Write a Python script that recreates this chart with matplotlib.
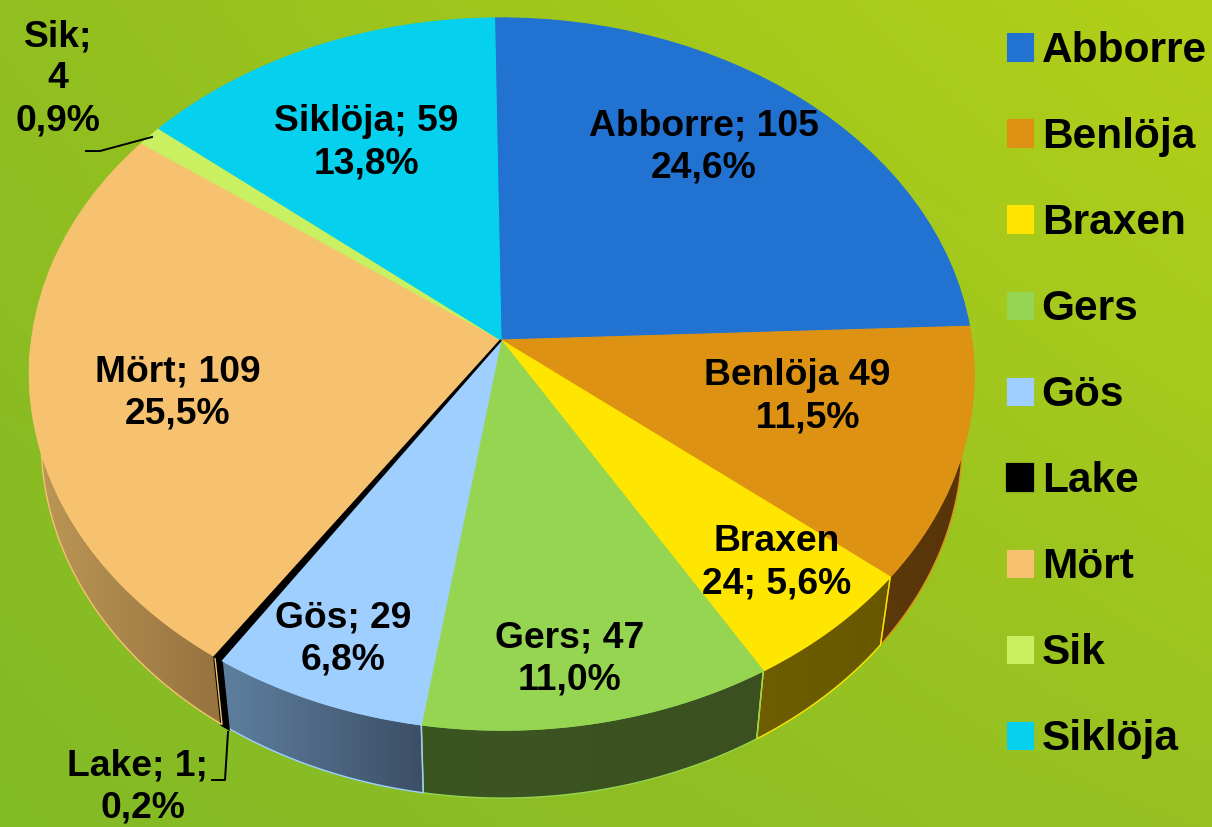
#!/usr/bin/python
# -*- coding: utf-8 -*-
"""3D looking pie of the catch per species"""
import numpy as np
import matplotlib
matplotlib.use('Agg')
import matplotlib.pyplot as plt
from matplotlib.colors import to_rgb
from matplotlib.patches import Polygon
from matplotlib.transforms import Transform

species = ['Abborre', 'Benlöja', 'Braxen', 'Gers', 'Gös', 'Lake', 'Mört', 'Sik', 'Siklöja']
counts = [105, 49, 24, 47, 29, 1, 109, 4, 59]
top_colors = ['#2272d2', '#dd9214', '#ffe600', '#96d552', '#9fcfff', '#000000', '#f6c26f', '#c8f060', '#05d0ee']
wall_left = ['#16498a', '#5c390a', '#6e5e00', '#3c5622', '#5f7f9f', '#000000', '#bd9857', '#7f9a3c', '#038']
wall_right = ['#16498a', '#563409', '#675800', '#3a5020', '#3c4f66', '#000000', '#96733f', '#7f9a3c', '#038']

labels = ['Abborre; 105\n24,6%', 'Benlöja 49\n  11,5%', 'Braxen\n24; 5,6%', 'Gers; 47\n11,0%',
          'Gös; 29\n6,8%', 'Lake; 1; \n0,2%', 'Mört; 109\n25,5%', 'Sik;\n4\n0,9%', 'Siklöja; 59\n13,8%']
label_xy = [(704, 147), (797, 397), (777, 563), (570, 659), (343, 639), (143, 787), (178, 393), (58, 79), (366, 143)]

WIDTH, HEIGHT = 1212, 827
APEX = (501, 340)
DEPTH = 68


class TiltView(Transform):
    """unit circle of the pie -> pixel position of the tilted disc"""
    input_dims = 2
    output_dims = 2
    is_separable = False

    def transform_non_affine(self, values):
        values = np.asarray(values, dtype=float)
        w = 1 + 0.0955 * values[:, 1]
        x = values[:, 0] * 470 / w
        y = values[:, 1] * 352.8 / w
        return np.column_stack([APEX[0] + x - 0.02 * y, APEX[1] - y - 0.01 * x])


plt.rcParams['font.family'] = ['Liberation Sans', 'DejaVu Sans']
plt.rcParams['font.weight'] = 'bold'

fig = plt.figure(figsize=(12.12, 8.27), dpi=100)
ax = fig.add_axes([0, 0, 1, 1])

view = TiltView()
wedges, _ = ax.pie(counts, colors=top_colors, startangle=90, counterclock=False,
                   wedgeprops=dict(linewidth=0.8, zorder=3))
for wedge, color in zip(wedges, top_colors):
    wedge.set_transform(view + ax.transData)
    wedge.set_edgecolor(color)
# the one fish slice is only a thick black line, keep it above its neighbours
wedges[species.index('Lake')].set_linewidth(1.6)
wedges[species.index('Lake')].set_zorder(3.5)

# background gradient, green bottom left to yellow top right
u, v = np.meshgrid(np.linspace(0, 1, 200), np.linspace(0, 1, 200))
corners = [np.array(to_rgb(c)) for c in ['#92bf20', '#b3d018', '#82ba26', '#98c222']]
bg = np.zeros((200, 200, 3))
for i in range(3):
    bg[:, :, i] = (corners[0][i] * (1 - u) * (1 - v) + corners[1][i] * u * (1 - v)
                   + corners[2][i] * (1 - u) * v + corners[3][i] * u * v)
ax.imshow(bg, extent=(0, WIDTH, HEIGHT, 0), aspect='auto', zorder=0)

# side walls, only the front half of the disc
for wedge, color, left, right in zip(wedges, top_colors, wall_left, wall_right):
    t1, t2 = max(wedge.theta1, -180), min(wedge.theta2, 0)
    if t1 >= t2:
        continue
    theta = np.radians(np.linspace(t1, t2, 60))
    rim = view.transform(np.column_stack([np.cos(theta), np.sin(theta)]))
    low = np.column_stack([APEX[0] + 0.975 * (rim[:, 0] - APEX[0]), rim[:, 1] + DEPTH])
    xy = np.vstack([rim, low[::-1]])
    shade = np.linspace(to_rgb(left), to_rgb(right), 64)[None, :, :]
    im = ax.imshow(shade, extent=(xy[:, 0].min(), xy[:, 0].max(), xy[:, 1].max(), xy[:, 1].min()),
                   aspect='auto', interpolation='bilinear', zorder=1)
    poly = Polygon(xy, closed=True, facecolor='none', edgecolor=color,
                   linewidth=2.5 if color == '#000000' else 1, zorder=2)
    ax.add_patch(poly)
    im.set_clip_path(poly)

# leader lines of the two small slices
ax.plot([86, 100, 152], [151, 151, 137], color='black', linewidth=1.4, zorder=4)
ax.plot([212, 225, 228], [780, 780, 732], color='black', linewidth=1.4, zorder=4)

for text, (x, y) in zip(labels, label_xy):
    ax.text(x, y, text, ha='center', va='center', fontsize=26.8, fontweight='bold',
            color='black', linespacing=1.27, zorder=5)

ax.legend(wedges, species, loc='upper left', bbox_to_anchor=(1007 / WIDTH, 1 - 31 / HEIGHT),
          frameon=False, fontsize=30.5, handlelength=0.62, handleheight=0.62,
          handletextpad=0.2, labelspacing=1.087, borderpad=0, borderaxespad=0)

ax.set_aspect('auto')
ax.set_xlim(0, WIDTH)
ax.set_ylim(HEIGHT, 0)
ax.axis('off')

fig.savefig('out.png', dpi=100)
